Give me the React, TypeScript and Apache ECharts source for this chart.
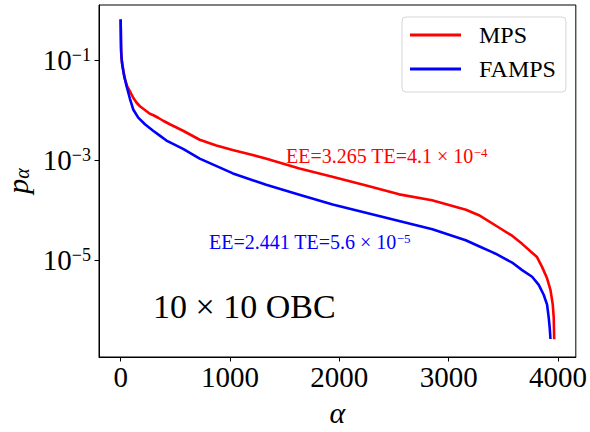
import React, { useEffect, useRef } from "react";
import * as echarts from "echarts";

// MPS spectrum: Schmidt index alpha and log10(p_alpha)
const mpsAlpha = [0, 3, 8, 15, 24, 40, 60, 85, 115, 146, 176, 237, 267, 300, 343, 389, 450, 571, 723, 875, 1024, 1180, 1334, 1635, 1936, 2246, 2547, 2848, 3158, 3277, 3459, 3580, 3672, 3763, 3808, 3854, 3900, 3931, 3952, 3961, 3965];
const mpsLog10P = [-0.19, -0.75, -0.95, -1.08, -1.2, -1.38, -1.52, -1.62, -1.75, -1.85, -1.92, -2.02, -2.07, -2.1, -2.15, -2.21, -2.28, -2.41, -2.59, -2.705, -2.797, -2.88, -2.969, -3.165, -3.329, -3.506, -3.683, -3.8, -3.99, -4.1, -4.346, -4.51, -4.673, -4.85, -4.937, -5.134, -5.362, -5.593, -5.888, -6.15, -6.58];

// FAMPS spectrum
const fampsAlpha = [0, 5, 12, 30, 55, 85, 115, 161, 222, 297, 358, 419, 571, 723, 1027, 1331, 1635, 1939, 2243, 2547, 2851, 3156, 3277, 3398, 3429, 3580, 3672, 3763, 3824, 3869, 3900, 3915, 3924, 3931];
const fampsLog10P = [-0.18, -0.85, -1.05, -1.295, -1.524, -1.77, -1.984, -2.148, -2.28, -2.41, -2.508, -2.606, -2.772, -2.969, -3.264, -3.492, -3.689, -3.886, -4.051, -4.215, -4.38, -4.6, -4.72, -4.839, -4.87, -5.047, -5.199, -5.331, -5.494, -5.691, -5.888, -6.15, -6.347, -6.577];

const seriesNames = ["MPS", "FAMPS"];
const seriesColors = ["#ff0000", "#0000ff"];
const xTicks = [0, 1000, 2000, 3000, 4000];
const yTickExponents = [-5, -3, -1];
const annotationMain = ["EE=3.265 TE=4.1 × 10", "EE=2.441 TE=5.6 × 10"];
const annotationExp = ["−4", "−5"];
const systemLabel = "10 × 10 OBC";

const FONT = "'Liberation Serif', 'Times New Roman', serif";

export default function App() {
  const ref = useRef<HTMLDivElement>(null);
  useEffect(() => {
    if (!ref.current) return;
    const chart = echarts.init(ref.current, null, { renderer: "svg" });
    const mpsData = mpsAlpha.map((a, i) => [a, mpsLog10P[i]]);
    const fampsData = fampsAlpha.map((a, i) => [a, fampsLog10P[i]]);
    const annRich = (color: string) => ({
      b: { fontSize: 20, lineHeight: 20, fontFamily: FONT, fill: color, color },
      s: { fontSize: 13, lineHeight: 14, fontFamily: FONT, fill: color, color, verticalAlign: "top" },
    });
    chart.setOption({
      animation: false,
      backgroundColor: "#fff",
      grid: {
        left: 99,
        right: 13,
        top: 5,
        bottom: 70,
        show: true,
        borderColor: "#000",
        borderWidth: 1,
        backgroundColor: "transparent",
      },
      legend: {
        orient: "vertical",
        left: 402,
        top: 17,
        padding: [6, 10, 11, 8],
        itemGap: 10,
        itemWidth: 51,
        itemHeight: 3,
        borderColor: "#d6d6d6",
        borderWidth: 1,
        borderRadius: 4,
        backgroundColor: "rgba(255,255,255,0.8)",
        data: seriesNames.map((n) => ({ name: n, icon: "rect" })),
        formatter: "{t|{name}}",
        textStyle: {
          fontFamily: FONT,
          fontSize: 24,
          color: "#000",
          rich: { t: { fontFamily: FONT, fontSize: 24, color: "#000", padding: [0, 0, 0, 13] } },
        },
      },
      xAxis: {
        type: "value",
        min: -198,
        max: 4163,
        splitLine: { show: false },
        axisLine: { show: true, onZero: false, lineStyle: { color: "#000", width: 1 } },
        axisTick: { show: true, length: 4.5, lineStyle: { color: "#000" }, customValues: xTicks },
        axisLabel: {
          customValues: xTicks,
          formatter: (v: number) => String(v),
          fontFamily: FONT,
          fontSize: 29,
          lineHeight: 29,
          color: "#000",
          margin: 5,
        },
        name: "α",
        nameLocation: "middle",
        nameGap: 40,
        nameTextStyle: { fontFamily: FONT, fontSize: 30, lineHeight: 30, fontStyle: "italic", color: "#000" },
      },
      yAxis: {
        type: "value",
        min: -6.937,
        max: 0.106,
        splitLine: { show: false },
        axisLine: { show: true, onZero: false, lineStyle: { color: "#000", width: 1 } },
        axisTick: { show: true, length: 4.5, lineStyle: { color: "#000" }, customValues: yTickExponents },
        axisLabel: {
          customValues: yTickExponents,
          margin: 8,
          formatter: (v: number) => `{b|10}{s|−${Math.abs(v)}}`,
          rich: {
            b: { fontSize: 29, lineHeight: 29, fontFamily: FONT, color: "#000" },
            s: { fontSize: 18, lineHeight: 15, fontFamily: FONT, color: "#000", verticalAlign: "top" },
          },
        },
      },
      series: [
        {
          name: seriesNames[0],
          type: "line",
          data: mpsData,
          showSymbol: false,
          symbol: "none",
          color: seriesColors[0],
          lineStyle: { color: seriesColors[0], width: 2.6, join: "round" },
          z: 2,
        },
        {
          name: seriesNames[1],
          type: "line",
          data: fampsData,
          showSymbol: false,
          symbol: "none",
          color: seriesColors[1],
          lineStyle: { color: seriesColors[1], width: 2.6, join: "round" },
          z: 3,
        },
      ],
      graphic: [
        {
          type: "text",
          x: 286,
          y: 156.2,
          style: {
            text: `{b|${annotationMain[0]}}{s|${annotationExp[0]}}`,
            fill: seriesColors[0],
            align: "left",
            verticalAlign: "middle",
            rich: annRich(seriesColors[0]),
          },
        },
        {
          type: "text",
          x: 209,
          y: 242.2,
          style: {
            text: `{b|${annotationMain[1]}}{s|${annotationExp[1]}}`,
            fill: seriesColors[1],
            align: "left",
            verticalAlign: "middle",
            rich: annRich(seriesColors[1]),
          },
        },
        {
          type: "text",
          x: 153,
          y: 306.4,
          style: {
            text: systemLabel,
            fontFamily: FONT,
            fontSize: 34,
            fill: "#000",
            align: "left",
            verticalAlign: "middle",
          },
        },
        {
          type: "text",
          x: 17,
          y: 181,
          rotation: Math.PI / 2,
          style: {
            text: "{p|p}{s|α}",
            align: "center",
            verticalAlign: "middle",
            rich: {
              p: { fontSize: 30, lineHeight: 30, fontFamily: FONT, fontStyle: "italic", fill: "#000" },
              s: { fontSize: 20, lineHeight: 14, fontFamily: FONT, fontStyle: "italic", fill: "#000", verticalAlign: "bottom" },
            },
          },
        },
      ],
    });
    return () => chart.dispose();
  }, []);
  return <div ref={ref} style={{ width: 590, height: 432, position: "absolute", left: 0, top: 0 }} />;
}
